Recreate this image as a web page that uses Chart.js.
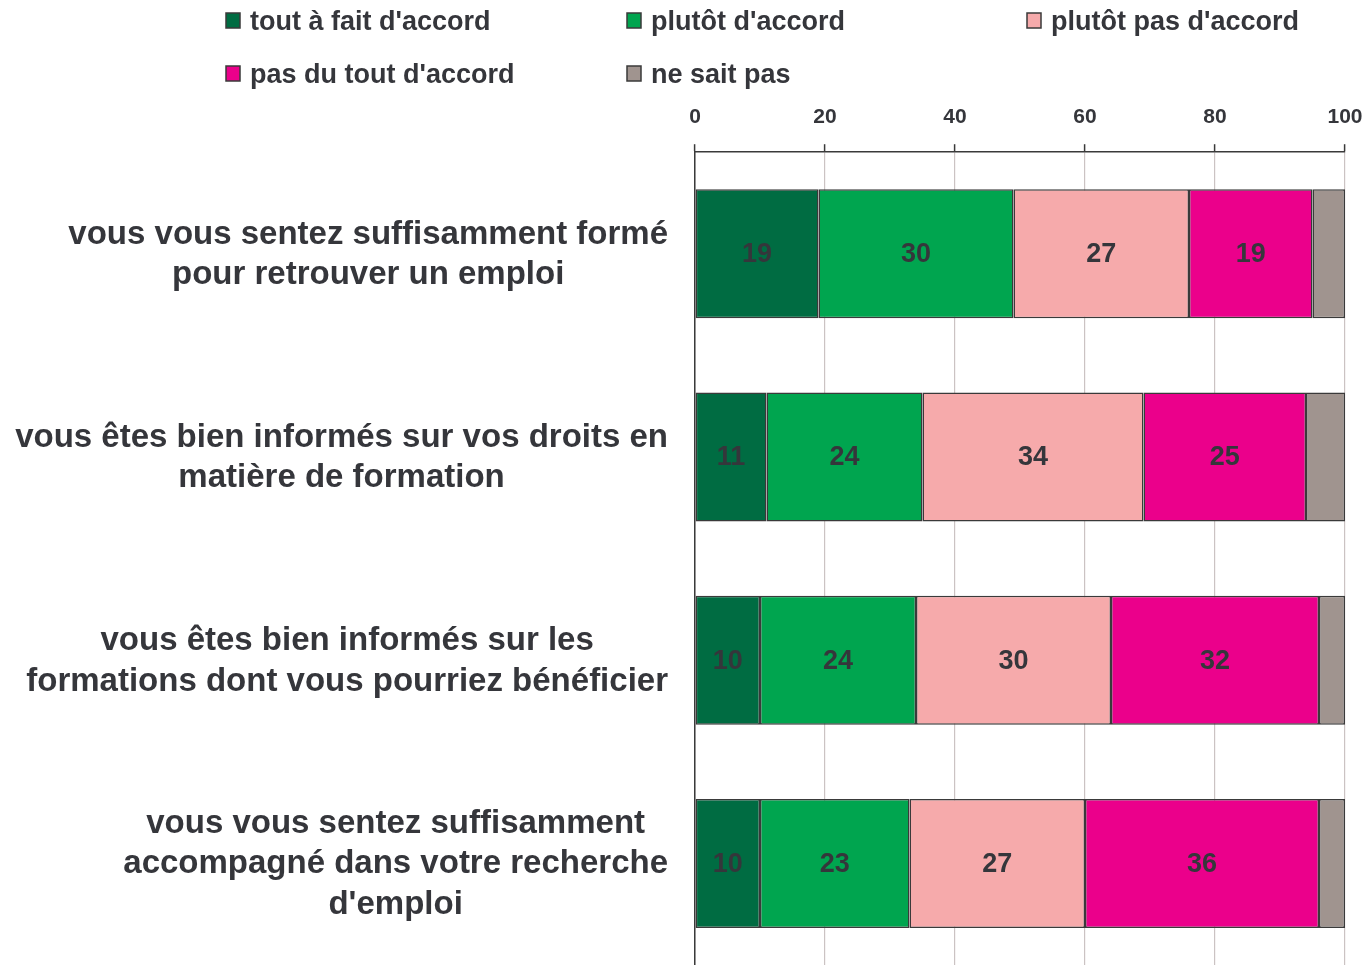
<!DOCTYPE html>
<html>
<head>
<meta charset="utf-8">
<script src="https://cdn.jsdelivr.net/npm/chart.js@4/dist/chart.umd.min.js"></script>
<style>
  html, body { margin: 0; padding: 0; background: #fff; }
  #wrap { width: 1369px; height: 965px; position: relative; }
</style>
</head>
<body>
<div id="wrap"><canvas id="chart"></canvas></div>
<script>
// questions (one array of lines per bar)
const questions = [
  ['vous vous sentez suffisamment formé', 'pour retrouver un emploi'],
  ['vous êtes bien informés sur vos droits en', 'matière de formation'],
  ['vous êtes bien informés sur les', 'formations dont vous pourriez bénéficier'],
  ['vous vous sentez suffisamment', 'accompagné dans votre recherche', "d'emploi"]
];
const answers = ["tout à fait d'accord", "plutôt d'accord", "plutôt pas d'accord", "pas du tout d'accord", "ne sait pas"];

const toutAFait = [19, 11, 10, 10];
const plutotAccord = [30, 24, 24, 23];
const plutotPas = [27, 34, 30, 27];
const pasDuTout = [19, 25, 32, 36];
const neSaitPas = [5, 6, 4, 4];

const xTicks = [0, 20, 40, 60, 80, 100];

const colors = ['#006c42', '#00a54f', '#f6aaab', '#eb008b', '#a0948f'];
const textColor = '#35363b';
const fontFamily = '"Liberation Sans", Arial, Helvetica, sans-serif';

const series = [toutAFait, plutotAccord, plutotPas, pasDuTout, neSaitPas];

// labels of the questions: block right aligned, lines centred inside it
const questionLabels = {
  id: 'questionLabels',
  afterDraw(chart) {
    const ctx = chart.ctx;
    const yScale = chart.scales.y;
    const right = chart.chartArea.left - 27;
    const lineH = 40.5;
    ctx.save();
    ctx.font = 'bold 33px ' + fontFamily;
    ctx.fillStyle = textColor;
    ctx.textAlign = 'center';
    ctx.textBaseline = 'middle';
    questions.forEach((lines, i) => {
      const widest = Math.max(...lines.map(l => ctx.measureText(l).width));
      const cx = right - widest / 2;
      const cy = yScale.getPixelForValue(i) + 1;
      lines.forEach((l, j) => {
        ctx.fillText(l, cx, cy + (j - (lines.length - 1) / 2) * lineH);
      });
    });
    ctx.restore();
  }
};

// values inside the segments (not for "ne sait pas")
const segmentLabels = {
  id: 'segmentLabels',
  afterDatasetsDraw(chart) {
    const ctx = chart.ctx;
    ctx.save();
    ctx.font = 'bold 27px ' + fontFamily;
    ctx.fillStyle = textColor;
    ctx.textAlign = 'center';
    ctx.textBaseline = 'middle';
    for (let d = 0; d < 4; d++) {
      chart.getDatasetMeta(d).data.forEach((bar, i) => {
        const v = chart.data.datasets[d].data[i];
        ctx.fillText(v, (bar.x + bar.base) / 2, bar.y + 1);
      });
    }
    ctx.restore();
  }
};

// legend in 3 fixed columns
const gridLegend = {
  id: 'gridLegend',
  afterDraw(chart) {
    const ctx = chart.ctx;
    const cols = [226, 627, 1027];
    const rows = [21, 74];
    ctx.save();
    ctx.font = 'bold 27px ' + fontFamily;
    ctx.textBaseline = 'middle';
    ctx.textAlign = 'left';
    answers.forEach((a, i) => {
      const x = cols[i % 3], y = rows[Math.floor(i / 3)];
      ctx.fillStyle = colors[i];
      ctx.fillRect(x, y - 8, 14, 15);
      ctx.strokeStyle = '#3a3a3a';
      ctx.lineWidth = 1.5;
      ctx.strokeRect(x, y - 8, 14, 15);
      ctx.fillStyle = textColor;
      ctx.fillText(a, x + 24, y + 2);
    });
    ctx.restore();
  }
};

const chart = new Chart(document.getElementById('chart'), {
  type: 'bar',
  data: {
    labels: questions,
    datasets: series.map((s, i) => ({
      label: answers[i],
      data: s,
      backgroundColor: colors[i],
      borderColor: '#3a3a3a',
      borderWidth: 1.5,
      borderSkipped: false,
      categoryPercentage: 1,
      barPercentage: 0.635
    }))
  },
  options: {
    indexAxis: 'y',
    responsive: true,
    maintainAspectRatio: false,
    animation: false,
    layout: { padding: { top: 91, left: 695, right: 24, bottom: 0 } },
    plugins: {
      legend: { display: false },
      tooltip: { enabled: false }
    },
    scales: {
      x: {
        position: 'top',
        stacked: true,
        min: 0,
        max: 100,
        afterBuildTicks(scale) {
          scale.ticks = xTicks.map(v => ({ value: v }));
        },
        afterFit(scale) {
          scale.paddingLeft = 0;
          scale.paddingRight = 0;
        },
        ticks: {
          color: textColor,
          font: { family: fontFamily, size: 21, weight: 'bold' },
          padding: 14
        },
        grid: {
          color: '#cbc3c3',
          lineWidth: 1.2,
          tickColor: '#3a3a3a',
          tickLength: 8,
          tickWidth: 1.5
        },
        border: { color: '#3a3a3a', width: 1.5 }
      },
      y: {
        stacked: true,
        afterFit(scale) { scale.width = 0; },
        ticks: { display: false },
        grid: { display: false },
        border: { color: '#3a3a3a', width: 1.5 }
      }
    }
  },
  plugins: [questionLabels, segmentLabels, gridLegend]
});
</script>
</body>
</html>
